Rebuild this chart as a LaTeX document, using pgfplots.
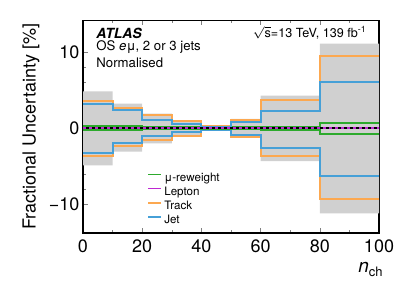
\documentclass[border=0pt]{standalone}
\usepackage{fontspec}
\setmainfont{TeX Gyre Heros}
\usepackage{pgfplots}
\pgfplotsset{compat=1.18}
\usepgfplotslibrary{fillbetween}
\definecolor{cgreen}{RGB}{45,170,45}
\definecolor{cpurple}{RGB}{190,40,210}
\definecolor{corange}{RGB}{252,168,80}
\definecolor{cblue}{RGB}{70,160,215}
\definecolor{cgray}{RGB}{208,208,208}
\begin{document}
\begin{tikzpicture}
\begin{axis}[
  at={(0pt,0pt)}, anchor=south west,
  scale only axis, width=148pt, height=106.4pt,
  xmin=0, xmax=100, ymin=-13.78, ymax=14.16,
  xtick={0,20,40,60,80,100}, minor x tick num=1,
  ytick={-10,0,10}, yticklabels={−10,0,10}, minor y tick num=4,
  tick align=inside, xtick pos=both, ytick pos=both,
  major tick length=2.6pt, minor tick length=1.5pt,
  /pgf/number format/assume math mode=true,
  tick label style={font=\fontsize{9}{10}\selectfont},
  yticklabel style={inner sep=0pt, xshift=-1.6pt},
  xticklabel style={inner sep=0pt, yshift=-3.3pt},
  ylabel={Fractional Uncertainty [\%]},
  ylabel style={font=\fontsize{9}{10}\selectfont, at={(axis description cs:-0.176,0.5)}, anchor=center},
  xlabel={\textit{n}\raisebox{-0.5ex}{\fontsize{6.5}{7}\selectfont ch}},
  xlabel style={font=\fontsize{9.5}{10}\selectfont, at={(axis description cs:1,0)}, anchor=base east, inner sep=0pt, xshift=2pt, yshift=-19.5pt},
  axis line style={line width=0.7pt},
  legend style={at={(axis cs:21.6,-5.82)}, anchor=north west, draw=none, fill=none,
    font=\fontsize{5.8}{6}\selectfont, inner sep=0pt, row sep=1.4pt,
    nodes={inner sep=0pt, text height=4.3pt, text depth=1.4pt},
    /tikz/every odd column/.append style={column sep=1.2pt}},
  legend cell align=left,
  legend image code/.code={\draw[#1, line width=0.8pt] (0pt,2pt) -- (6.5pt,2pt);},
]
% gray band (total)
\addplot[name path=up, const plot, draw=none, forget plot] coordinates {(0,4.8)(10,3.2)(20,1.9)(30,1.05)(40,0.3)(50,1.2)(60,4.25)(80,11.1)(100,11.1)};
\addplot[name path=lo, const plot, draw=none, forget plot] coordinates {(0,-4.9)(10,-3.1)(20,-2.0)(30,-1.1)(40,-0.3)(50,-1.3)(60,-4.35)(80,-11.2)(100,-11.2)};
\addplot[cgray, forget plot] fill between[of=up and lo];
% legend-carrying upper lines
\addplot[const plot, cgreen, line width=1pt] coordinates {(0,0.3)(10,0.25)(20,0.2)(30,0.15)(40,0.1)(50,0.1)(60,0.2)(80,0.65)(100,0.65)};
\addlegendentry{μ-reweight}
\addplot[cpurple, line width=1pt] coordinates {(0,0.02)(100,0.02)};
\addlegendentry{Lepton}
\addplot[const plot, corange, line width=1pt] coordinates {(0,3.6)(10,2.6)(20,1.7)(30,0.96)(40,0.25)(50,1.05)(60,3.7)(80,9.5)(100,9.5)};
\addlegendentry{Track}
\addplot[const plot, cblue, line width=1pt] coordinates {(0,3.2)(10,2.4)(20,1.1)(30,0.5)(40,0.2)(50,0.75)(60,2.3)(80,6.0)(100,6.0)};
\addlegendentry{Jet}
% lower lines
\addplot[const plot, corange, line width=1pt, forget plot] coordinates {(0,-3.7)(10,-2.4)(20,-1.6)(30,-1.0)(40,-0.25)(50,-1.2)(60,-3.7)(80,-9.25)(100,-9.25)};
\addplot[const plot, cblue, line width=1pt, forget plot] coordinates {(0,-3.3)(10,-2.0)(20,-1.1)(30,-0.5)(40,-0.25)(50,-0.9)(60,-2.6)(80,-6.3)(100,-6.3)};
\addplot[const plot, cgreen, line width=1pt, forget plot] coordinates {(0,-0.25)(10,-0.2)(20,-0.15)(30,-0.1)(40,-0.1)(50,-0.15)(60,-0.3)(80,-0.8)(100,-0.8)};
% zero line with lepton dashes
\addplot[black, line width=1pt, forget plot] coordinates {(0,0)(100,0)};
\addplot[cpurple, line width=0.8pt, dash pattern=on 1.5pt off 1.5pt, forget plot] coordinates {(0,0)(100,0)};
% annotations
\node[anchor=base west, inner sep=0pt, font=\fontsize{7}{8}\selectfont\bfseries\itshape] at (axis cs:4.4,11.73) {ATLAS};
\node[anchor=base west, inner sep=0pt, font=\fontsize{6.6}{8}\selectfont] at (axis cs:4.4,10.22) {OS \textit{e}μ, 2 or 3 jets};
\node[anchor=base west, inner sep=0pt, font=\fontsize{6.6}{8}\selectfont] at (axis cs:4.4,7.98) {Normalised};
\node[anchor=base east, inner sep=0pt, font=\fontsize{6.3}{8}\selectfont] at (axis cs:96,11.92) {$\sqrt{\mbox{s}}$=13 TeV, 139 fb\textsuperscript{-1}};
\end{axis}
\pgfresetboundingbox
\path (-41.5pt,-26.5pt) rectangle (158pt,116.5pt);
\end{tikzpicture}
\end{document}
